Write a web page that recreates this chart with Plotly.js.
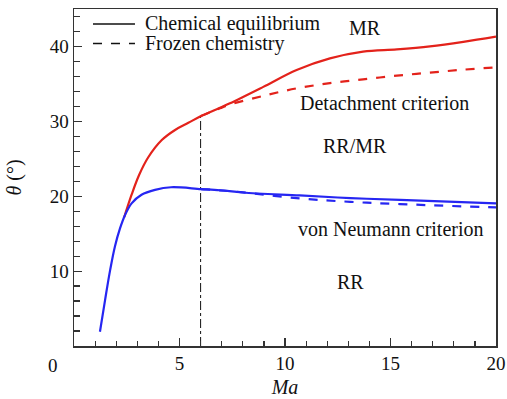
<!DOCTYPE html>
<html>
<head>
<meta charset="utf-8">
<script src="https://cdn.plot.ly/plotly-3.0.1.min.js"></script>
<style>
html,body{margin:0;padding:0;background:#fff;}
#chart{width:507px;height:399px;}
#chart svg text{font-family:"Liberation Serif", "Times New Roman", serif !important;}
</style>
</head>
<body>
<div id="chart"></div>
<script>
// Detachment criterion, chemical equilibrium (red solid)
const maDetEq = [2.38, 2.73, 3.08, 3.52, 4.16, 4.79, 5.42, 6.02, 6.92, 7.39, 8.97, 10.55, 12.13, 13.7, 15.3, 16.87, 18.45, 20];
const thDetEq = [17.2, 20.2, 22.8, 25.2, 27.5, 28.85, 29.8, 30.7, 31.8, 32.4, 34.6, 36.85, 38.4, 39.3, 39.6, 40.0, 40.6, 41.3];
// Detachment criterion, frozen chemistry (red dashed)
const maDetFr = [6.02, 6.92, 7.39, 8.97, 10.55, 12.13, 13.7, 15.3, 16.87, 18.45, 20];
const thDetFr = [30.7, 31.75, 32.25, 33.4, 34.4, 35.1, 35.6, 36.1, 36.5, 36.9, 37.2];
// von Neumann criterion, chemical equilibrium (blue solid)
const maVnEq = [1.23, 1.47, 1.71, 1.94, 2.18, 2.42, 2.73, 3.2, 3.84, 4.6, 6.02, 6.92, 8, 10.7, 13.1, 15.45, 20];
const thVnEq = [1.9, 6.1, 10.1, 13.3, 15.7, 17.5, 19.05, 20.2, 20.85, 21.2, 20.96, 20.8, 20.5, 20.1, 19.75, 19.5, 19.05];
// von Neumann criterion, frozen chemistry (blue dashed)
const maVnFr = [6.02, 7.9, 10.7, 13.1, 15.45, 20];
const thVnFr = [20.96, 20.55, 19.7, 19.25, 18.95, 18.5];
// vertical marker
const maMark = [6, 6];
const thMark = [0, 30.6];
// region labels
const labelText = ["MR", "Detachment criterion", "RR/MR", "von Neumann criterion", "RR"];
const labelMa = [13.8, 14.7, 13.3, 15.0, 13.1];
const labelTh = [42.5, 32.4, 26.7, 15.6, 8.6];
const legendNames = ["Chemical equilibrium", "Frozen chemistry"];

const RED = "#e3221b", BLUE = "#2626f2";
const FONT = "Liberation Serif";

const traces = [
  {x: maMark, y: thMark, mode: "lines", line: {color: "#111", width: 1, dash: "dashdot"}, hoverinfo: "skip"},
  {x: maDetEq, y: thDetEq, mode: "lines", line: {color: RED, width: 2.2, shape: "spline"}},
  {x: maDetFr, y: thDetFr, mode: "lines", line: {color: RED, width: 2.2, dash: "dash", shape: "spline"}},
  {x: maVnFr, y: thVnFr, mode: "lines", line: {color: BLUE, width: 2.2, dash: "dash", shape: "spline"}},
  {x: maVnEq, y: thVnEq, mode: "lines", line: {color: BLUE, width: 2.2, shape: "spline"}}
];

const annots = labelText.map((t, i) => ({
  x: labelMa[i], y: labelTh[i], xref: "x", yref: "y", text: t, showarrow: false,
  font: {family: FONT, size: 20, color: "#111"}
}));
annots.push({x: 0, y: 0, xref: "x", yref: "y", text: "0", showarrow: false, xshift: -21, yshift: -19,
  font: {family: FONT, size: 19, color: "#111"}});
// legend (drawn as layout items)
const legRowY = [0.9555, 0.8976];
legendNames.forEach((n, i) => {
  annots.push({x: 0.1642, y: legRowY[i], xref: "paper", yref: "paper", xanchor: "left", yanchor: "middle",
    text: n, showarrow: false, font: {family: FONT, size: 20, color: "#111"}});
});
const legShapes = legendNames.map((n, i) => ({
  type: "line", xref: "paper", yref: "paper", x0: 0.045, x1: 0.1445, y0: legRowY[i], y1: legRowY[i],
  line: {color: "#111", width: 1.5, dash: i === 0 ? "solid" : "dash"}
}));

const lay = {
  width: 507, height: 399,
  margin: {l: 74, r: 11, t: 9, b: 53},
  paper_bgcolor: "#fff", plot_bgcolor: "#fff",
  font: {family: FONT, color: "#111"},
  showlegend: false,
  xaxis: {
    range: [0, 20], showgrid: false, zeroline: false,
    showline: true, linecolor: "#333", linewidth: 1.5, mirror: true,
    ticks: "inside", ticklen: 8, tickwidth: 1.2, tickcolor: "#333",
    tickvals: [5, 10, 15, 20], ticktext: ["5", "10", "15", "20"],
    tickfont: {family: FONT, size: 19, color: "#111"},
    minor: {dtick: 1, ticks: "inside", ticklen: 5, tickwidth: 1.2, tickcolor: "#333", showgrid: false},
    title: {text: "<i>Ma</i>", font: {family: FONT, size: 20, color: "#111"}, standoff: 6}
  },
  yaxis: {
    range: [0, 45], showgrid: false, zeroline: false,
    showline: true, linecolor: "#333", linewidth: 1.5, mirror: true,
    ticks: "inside", ticklen: 8, tickwidth: 1.2, tickcolor: "#333",
    tickvals: [10, 20, 30, 40],
    tickfont: {family: FONT, size: 19, color: "#111"},
    minor: {dtick: 2, ticks: "inside", ticklen: 6, tickwidth: 1.2, tickcolor: "#333", showgrid: false},
    title: {text: "<i>θ</i> (°)", font: {family: FONT, size: 20, color: "#111"}, standoff: 22}
  },
  shapes: legShapes,
  annotations: annots
};

Plotly.newPlot("chart", traces, lay, {displayModeBar: false, staticPlot: true});
</script>
</body>
</html>
